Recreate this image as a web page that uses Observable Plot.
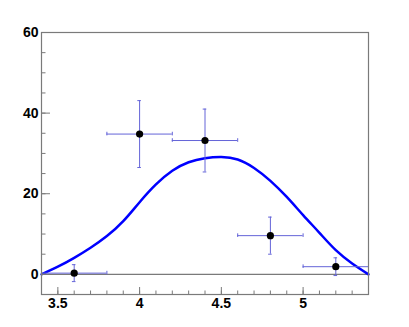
<!DOCTYPE html>
<html><head><meta charset="utf-8">
<script src="https://cdn.jsdelivr.net/npm/d3@7"></script>
<script src="https://cdn.jsdelivr.net/npm/@observablehq/plot@0.6"></script>
<style>
body{margin:0;background:#fff;}
svg text {font-size:14px !important; font-weight:bold !important; font-family:'Liberation Sans', Arial, sans-serif !important;}
</style>
</head><body><div id="chart"></div>
<script>
const binCenters = [3.6, 4.0, 4.4, 4.8, 5.2];
const binHalfWidths = [0.2, 0.2, 0.2, 0.2, 0.2];
const counts = [0.3, 34.8, 33.2, 9.6, 1.9];
const countErrors = [2.1, 8.3, 7.8, 4.6, 2.2];

const fitX = [3.4, 3.5, 3.6, 3.7, 3.8, 3.9, 4.0, 4.1, 4.2, 4.3, 4.4, 4.5, 4.6, 4.7, 4.8, 4.9, 5.0, 5.1, 5.2, 5.3, 5.4];
const fitY = [0, 1.9, 4.1, 6.6, 9.5, 13.2, 17.9, 22.3, 25.7, 27.8, 28.8, 29.1, 28.5, 26.4, 23.2, 19.2, 14.7, 10.3, 6.0, 2.7, 0];

const xMajorTicks = [3.5, 4, 4.5, 5];
const xMinorTicks = [3.4, 3.5, 3.6, 3.7, 3.8, 3.9, 4.0, 4.1, 4.2, 4.3, 4.4, 4.5, 4.6, 4.7, 4.8, 4.9, 5.0, 5.1, 5.2, 5.3, 5.4];
const yMajorTicks = [0, 20, 40, 60];
const yMinorTicks = [-5, 0, 5, 10, 15, 20, 25, 30, 35, 40, 45, 50, 55, 60];

const points = binCenters.map((x, i) => ({
  x, y: counts[i],
  xlo: x - binHalfWidths[i], xhi: x + binHalfWidths[i],
  ylo: counts[i] - countErrors[i], yhi: counts[i] + countErrors[i]
}));
const fit = fitX.map((x, i) => ({x, y: fitY[i]}));

const W = 409, H = 327, ML = 41, MR = 41, MT = 32, MB = 33;
const PW = W - ML - MR, PH = H - MT - MB;
const axisColor = "#7a7a7a";
const errColor = "#6464d8";
const capX = 0.011, capY = 0.45;
const fmt = d => String(d);

const chart = Plot.plot({
  width: W, height: H,
  marginLeft: ML, marginRight: MR, marginTop: MT, marginBottom: MB,
  style: {fontFamily: "'Liberation Sans', Arial, sans-serif", fontSize: "14px", fontWeight: "bold", color: "#000", background: "#fff"},
  x: {domain: [3.4, 5.4]},
  y: {domain: [-5, 60]},
  marks: [
    Plot.ruleY([0], {stroke: axisColor, strokeWidth: 1.2}),
    Plot.line(fit, {x: "x", y: "y", stroke: "#0000ff", strokeWidth: 2.5, curve: "natural"}),
    Plot.ruleY(points, {y: "y", x1: "xlo", x2: "xhi", stroke: errColor, strokeWidth: 1}),
    Plot.ruleX(points, {x: "x", y1: "ylo", y2: "yhi", stroke: errColor, strokeWidth: 1}),
    Plot.ruleY(points, {y: "yhi", x1: d => d.x - capX, x2: d => d.x + capX, stroke: errColor}),
    Plot.ruleY(points, {y: "ylo", x1: d => d.x - capX, x2: d => d.x + capX, stroke: errColor}),
    Plot.ruleX(points, {x: "xlo", y1: d => d.y - capY, y2: d => d.y + capY, stroke: errColor}),
    Plot.ruleX(points, {x: "xhi", y1: d => d.y - capY, y2: d => d.y + capY, stroke: errColor}),
    Plot.dot(points, {x: "x", y: "y", r: 3.6, fill: "#000", stroke: null}),
    Plot.tickY(yMinorTicks, {y: d => d, insetRight: PW - 4.5, stroke: axisColor}),
    Plot.tickY(yMajorTicks, {y: d => d, insetRight: PW - 9, stroke: axisColor}),
    Plot.tickX(xMinorTicks, {x: d => d, insetTop: PH - 3.5, stroke: axisColor}),
    Plot.tickX(xMajorTicks, {x: d => d, insetTop: PH - 7, stroke: axisColor}),
    Plot.axisY(yMajorTicks, {tickSize: 0, tickPadding: 3, label: null, tickFormat: fmt, fill: "#000"}),
    Plot.axisX(xMajorTicks, {tickSize: 0, tickPadding: 4, label: null, tickFormat: fmt, fill: "#000"}),
    Plot.frame({stroke: axisColor, strokeWidth: 1.2})
  ]
});
document.getElementById("chart").appendChild(chart);
</script>
</body></html>
